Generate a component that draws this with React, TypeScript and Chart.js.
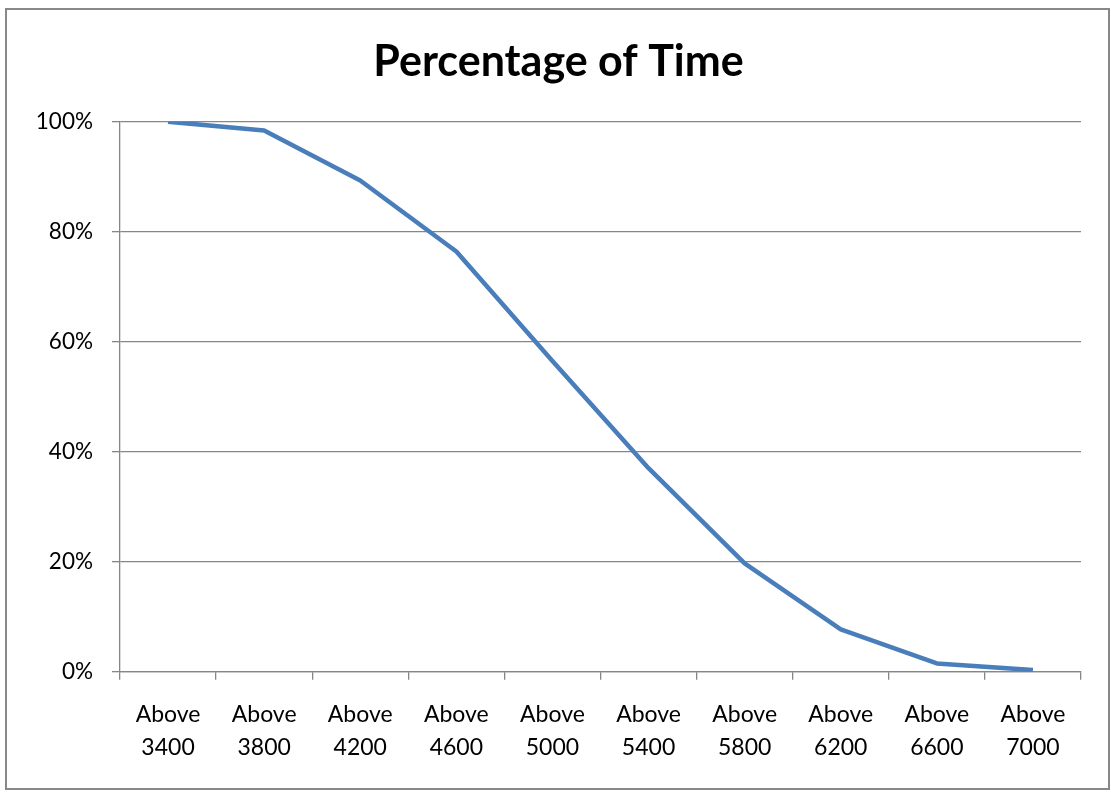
import React, { useEffect, useRef } from "react";
import { Chart, registerables } from "chart.js";

Chart.register(...registerables);

const categories: string[][] = [
  ["Above", "3400"],
  ["Above", "3800"],
  ["Above", "4200"],
  ["Above", "4600"],
  ["Above", "5000"],
  ["Above", "5400"],
  ["Above", "5800"],
  ["Above", "6200"],
  ["Above", "6600"],
  ["Above", "7000"],
];

const percentValues: number[] = [100, 98.4, 89.3, 76.4, 56.5, 37.0, 19.7, 7.7, 1.5, 0.3];

const yTickValues: number[] = [0, 20, 40, 60, 80, 100];

const titleText = "Percentage of Time";

const FONT = "Lato, 'Open Sans', 'DejaVu Sans', sans-serif";
const GRID = "#868686";

export default function App() {
  const canvasRef = useRef<HTMLCanvasElement | null>(null);

  useEffect(() => {
    if (!canvasRef.current) return;
    const chart = new Chart(canvasRef.current, {
      type: "line",
      data: {
        labels: categories,
        datasets: [
          {
            label: titleText,
            data: percentValues,
            borderColor: "#4a7ebb",
            backgroundColor: "#4a7ebb",
            borderWidth: 4.5,
            pointRadius: 0,
            pointHoverRadius: 0,
            tension: 0,
            fill: false,
            borderJoinStyle: "round",
            borderCapStyle: "butt",
          },
        ],
      },
      options: {
        animation: false,
        responsive: false,
        maintainAspectRatio: false,
        devicePixelRatio: 1,
        layout: { padding: { left: 36, right: 30, top: 0, bottom: 0 } },
        plugins: {
          legend: { display: false },
          tooltip: { enabled: false },
          title: {
            display: true,
            text: titleText,
            color: "#000000",
            font: { family: FONT, size: 43, weight: "bold", lineHeight: 1.2 },
            padding: { top: 36.4, bottom: 33.7 },
          },
        },
        scales: {
          x: {
            type: "category",
            offset: true,
            grid: {
              offset: true,
              drawOnChartArea: false,
              drawTicks: true,
              tickLength: 8,
              color: GRID,
              lineWidth: 1.3,
            },
            border: { display: true, color: GRID, width: 1.3 },
            ticks: {
              color: "#000000",
              font: { family: FONT, size: 23, lineHeight: 1.435 },
              padding: 18.3,
              maxRotation: 0,
              minRotation: 0,
              autoSkip: false,
            },
            afterFit: (scale: any) => {
              scale.height = 793 - 671.7;
            },
          },
          y: {
            min: 0,
            max: 100,
            afterBuildTicks: (scale: any) => {
              scale.ticks = yTickValues.map((v) => ({ value: v }));
            },
            grid: {
              drawOnChartArea: true,
              drawTicks: true,
              tickLength: 8,
              color: GRID,
              lineWidth: 1.3,
            },
            border: { display: true, color: GRID, width: 1.3 },
            ticks: {
              color: "#000000",
              font: { family: FONT, size: 22.5 },
              padding: 19,
              callback: (v: any) => `${v}%`,
            },
            afterFit: (scale: any) => {
              scale.width = 120 - 36;
            },
          },
        },
      },
    });
    return () => chart.destroy();
  }, []);

  return (
    <div style={{ position: "absolute", left: 0, top: 0, width: 1111, height: 793, background: "#ffffff" }}>
      <div
        style={{
          position: "absolute",
          left: 5,
          top: 8,
          width: 1105,
          height: 782,
          boxSizing: "border-box",
          border: "2px solid #888888",
        }}
      />
      <canvas
        ref={canvasRef}
        width={1111}
        height={793}
        style={{ position: "absolute", left: 0, top: 0, width: 1111, height: 793 }}
      />
    </div>
  );
}
